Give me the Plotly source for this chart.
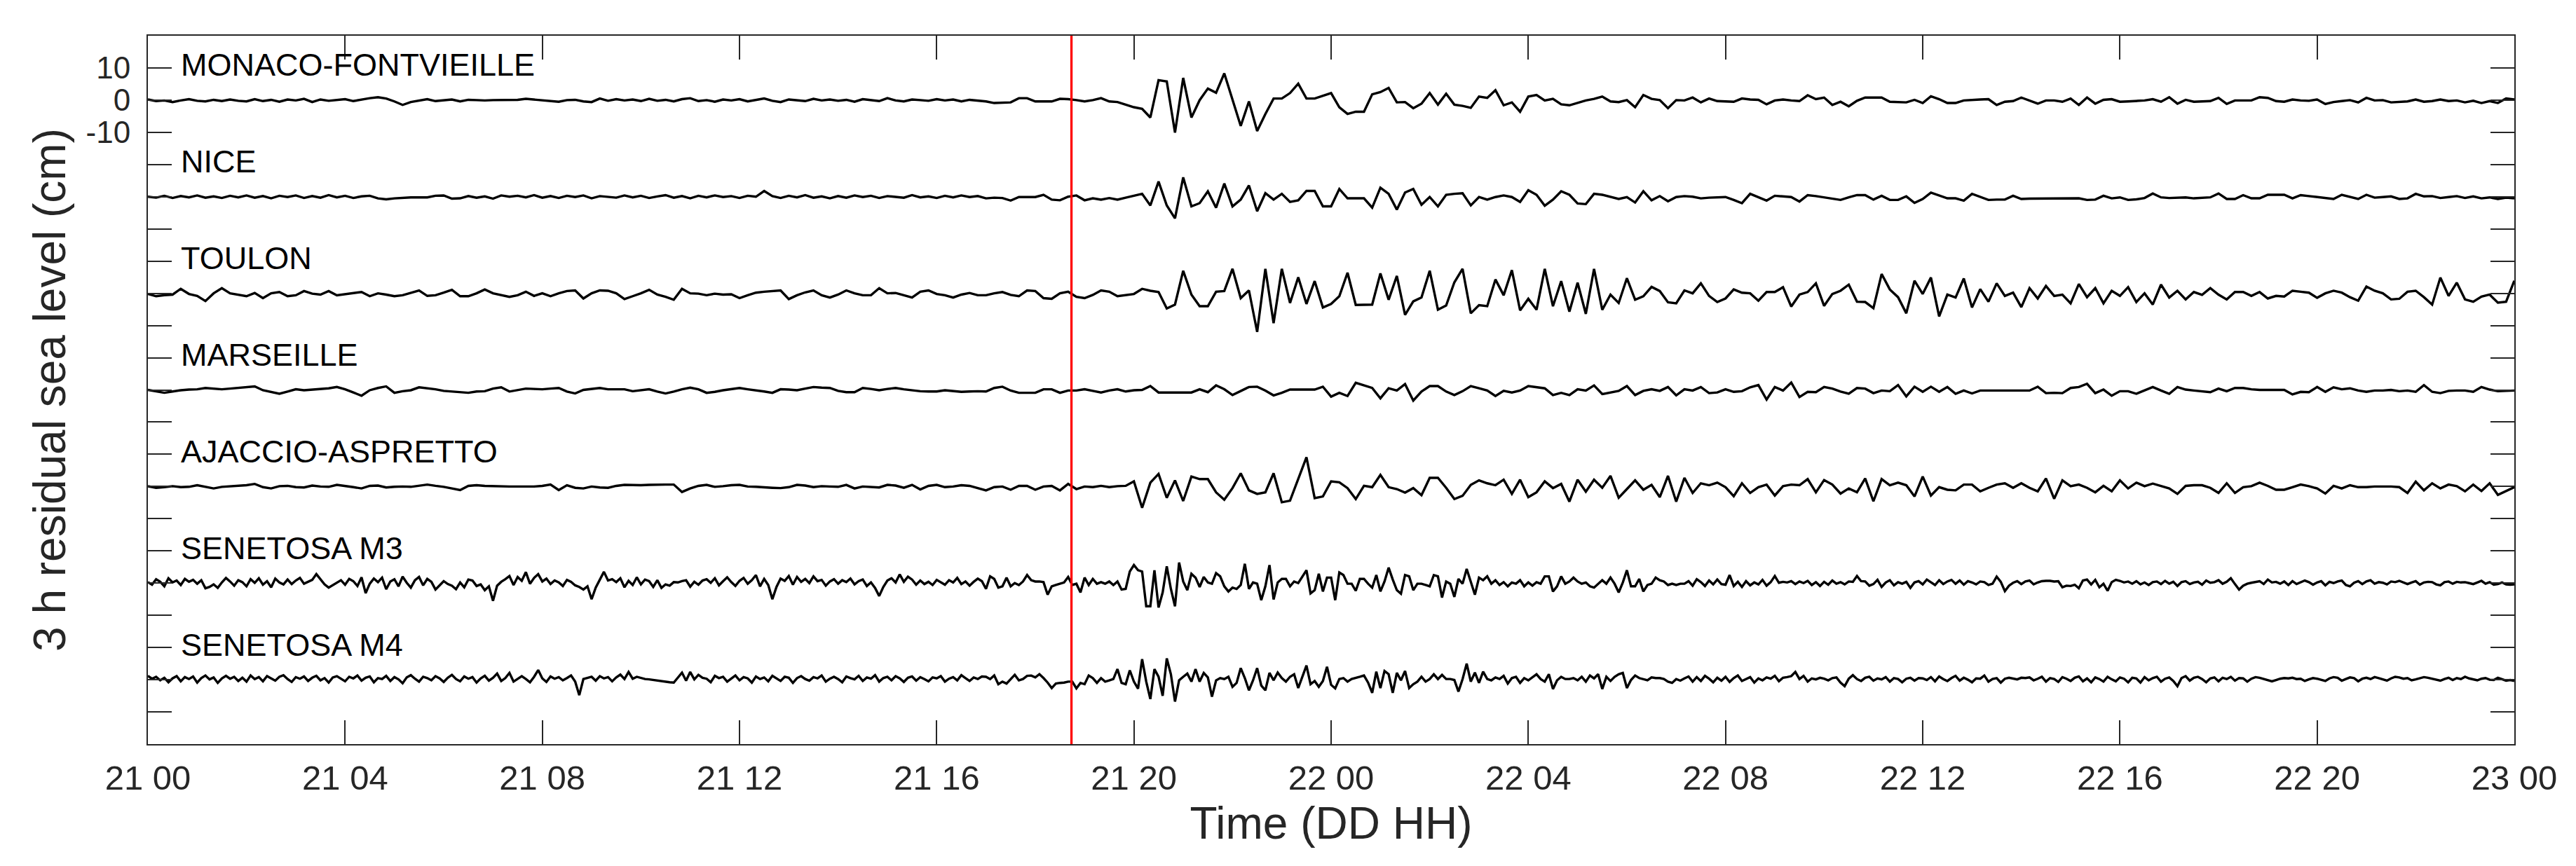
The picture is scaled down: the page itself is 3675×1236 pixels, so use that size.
import plotly.graph_objects as go

# ---------------- data ----------------
stations = ["MONACO-FONTVIEILLE", "NICE", "TOULON", "MARSEILLE",
            "AJACCIO-ASPRETTO", "SENETOSA M3", "SENETOSA M4"]
offsets_cm = [0, -30, -60, -90, -120, -150, -180]
step_minutes = [10, 10, 10, 10, 10, 5, 5]

tick_hours = [0, 4, 8, 12, 16, 20, 24, 28, 32, 36, 40, 44, 48]
tick_labels = ["21 00", "21 04", "21 08", "21 12", "21 16", "21 20", "22 00",
               "22 04", "22 08", "22 12", "22 16", "22 20", "23 00"]
ytick_values = list(range(-190, 20, 10))
ytick_shown = {10: "10", 0: "0", -10: "-10"}
event_hour = 18 + 44 / 60  # 21 May 2003, 18:44

monaco = [
    0.2, -0.3, -0.1, -0.6, -0.1, 0.3, -0.2, -0.4, 0.1, -0.3, 0.2, -0.2,
    -0.4, 0.3, -0.3, 0.1, -0.5, 0.2, -0.1, 0.4, -0.6, 0.2, -0.2, 0.0,
    0.3, -0.3, 0.2, 0.6, 0.9, 0.5, -0.4, -1.5, -0.6, -0.2, 0.3, -0.3,
    0.0, 0.2, -0.4, 0.1, 0.0, -0.1, 0.0, 0.0, 0.0, 0.1, 0.4, 0.2,
    0.0, -0.2, -0.5, 0.0, 0.1, -0.4, -0.6, 0.5, -0.2, 0.3, -0.1, 0.2,
    -0.3, 0.4, -0.2, 0.1, -0.4, 0.3, 0.6, -0.3, 0.0, -0.5, 0.2, -0.1,
    0.3, -0.4, 0.1, 0.5, -0.2, -0.6, 0.2, 0.0, -0.3, 0.4, -0.1, 0.2,
    -0.2, 0.1, -0.5, 0.3, 0.0, -0.3, 0.6, -0.1, -0.4, 0.2, 0.0, -0.2,
    0.3, -0.1, 0.2, -0.4, 0.1, -0.2, -0.4, -0.9, -0.8, -0.7, 0.6, 0.6,
    -0.4, -0.4, -0.4, 0.4, 0.3, 0.0, -0.4, 0.0, 0.6, -0.4, -0.6, -1.4,
    -2.2, -2.7, -5.4, 6.2, 5.8, -10.1, 6.9, -5.4, 0.0, 3.6, 2.3, 8.3,
    0.0, -8.0, -0.4, -9.6, -4.3, 0.5, 0.5, 2.2, 5.1, 0.5, 0.5, 1.4,
    2.2, -2.2, -4.3, -3.6, -3.6, 1.8, 2.5, 3.8, -0.7, -0.6, -2.5, -1.1,
    2.2, -1.4, 2.0, -1.4, -1.8, -2.4, 1.1, 0.7, 3.1, -1.6, -0.7, -3.6,
    1.1, 1.6, -0.1, 0.4, -1.3, -1.6, -0.9, -0.1, 0.4, 1.1, -0.4, -0.6,
    0.0, -2.2, 1.6, 0.4, 0.0, -2.5, 0.0, -0.1, 0.8, -0.7, 0.5, -0.3,
    -0.4, -0.5, 0.5, 0.2, 0.1, -1.3, -0.1, 0.2, -0.1, -0.3, 1.5, 0.3,
    0.8, -1.5, -0.5, -1.9, -0.2, 0.8, 0.8, 0.8, -0.5, -0.6, -0.7, 0.1,
    -0.9, 1.2, 0.3, -0.9, -0.9, -0.1, 0.1, 0.2, 0.3, -1.5, -0.5, -0.3,
    0.8, -0.1, -1.1, -0.1, -0.1, -0.5, 0.5, -1.5, 0.8, -1.1, 0.1, 0.3,
    -0.5, -0.4, -0.3, -0.1, 0.3, -0.5, 0.9, -1.1, 0.1, -0.5, -0.4, -0.3,
    0.7, -1.2, -0.1, -0.1, -0.1, 0.9, 0.7, -0.3, -0.5, 0.2, -0.1, -0.2,
    0.2, -1.2, -0.6, -0.3, 0.0, -0.7, 0.7, -0.1, 0.0, -0.7, -0.5, -0.4,
    0.2, -0.5, -0.3, 0.2, -0.3, -0.1, -0.7, -0.2, -0.9, -0.3, -0.9, 0.5,
    0.2,
]

nice = [
    0.0, -0.3, 0.3, -0.4, 0.2, -0.2, 0.4, -0.3, 0.1, -0.4, 0.3, -0.2,
    0.4, -0.3, 0.2, -0.5, 0.3, -0.1, 0.4, -0.4, 0.2, -0.3, 0.5, -0.2,
    0.3, -0.4, 0.1, 0.3, -0.5, -0.8, -0.5, -0.3, -0.2, -0.2, -0.2, 0.3,
    0.4, -0.6, -0.5, 0.2, -0.3, 0.1, -0.6, 0.4, 0.0, 0.3, -0.2, 0.5,
    -0.3, 0.2, -0.4, 0.3, -0.1, 0.4, -0.5, 0.2, 0.0, -0.3, 0.4, -0.2,
    0.3, -0.4, 0.1, 0.5, -0.3, 0.2, -0.5, 0.3, -0.2, 0.4, -0.1, 0.2,
    -0.4, 0.3, 0.0, 1.8, 0.2, -0.4, 0.3, -0.2, 0.5, -0.3, 0.1, -0.5,
    0.2, -0.3, 0.4, -0.1, 0.3, -0.4, 0.2, 0.0, -0.3, 0.5, -0.2, 0.1,
    -0.4, 0.3, -0.2, 0.4, -0.1, 0.2, -0.5, -0.3, -0.4, -1.2, -0.1, -0.1,
    -0.1, 0.6, -0.9, -1.1, 0.0, 0.4, -1.1, -0.5, -0.9, -0.4, -0.9, -0.3,
    0.3, 0.9, -2.7, 4.7, -2.7, -6.7, 6.0, -3.0, -2.0, 1.7, -3.4, 4.1,
    -3.0, -0.9, 3.5, -4.5, 1.1, -0.9, 0.9, -1.6, -1.1, 1.8, 1.8, -3.0,
    -3.0, 2.4, -0.5, -0.5, -0.5, -3.4, 2.8, 0.9, -4.0, 1.3, 2.4, -2.5,
    -0.1, -3.0, 0.6, 0.9, 1.1, -2.7, -0.1, -0.9, -0.1, 0.4, -0.1, -1.6,
    2.0, 0.6, -2.8, -0.9, 1.7, 0.6, -2.1, -2.3, 0.9, 0.6, -0.1, -0.7,
    -0.1, -1.8, 1.7, -1.1, 0.2, -1.4, -0.1, 0.2, 0.0, -0.5, -0.3, -0.2,
    -0.1, -1.0, -2.0, 0.9, -0.2, -1.2, 0.3, 0.1, -0.1, -1.5, 0.5, 0.2,
    -0.2, -0.6, -1.0, -0.2, 0.5, 0.5, -0.9, 0.3, -1.0, -1.0, 0.1, -1.9,
    -0.7, 1.3, 0.4, -0.5, -0.5, -1.2, 0.9, -0.1, -1.0, -0.9, -0.9, 0.3,
    -0.7, -0.6, -0.6, -0.6, -0.5, -0.5, -0.5, -0.5, -1.0, -0.9, 0.3, -0.5,
    -0.2, -1.0, -0.8, -0.4, 1.0, -0.2, -0.4, -0.3, -0.2, -0.5, -0.3, -0.2,
    1.0, -0.7, -0.7, 0.5, -0.5, -0.5, 0.6, 0.6, 0.6, -0.5, 0.5, 0.2,
    -0.1, -0.4, -0.7, 0.6, -0.1, -0.7, 0.6, -0.3, -0.1, 0.1, -0.7, -0.5,
    0.9, 0.1, 0.2, -0.4, -0.1, 0.2, -0.4, 0.1, -0.5, -0.2, -0.7, -0.3,
    -0.5,
]

toulon = [
    -0.2, -0.9, -0.6, -0.4, 1.4, -0.2, -0.8, -2.4, 0.0, 1.6, 0.0, -0.5,
    -0.9, 0.1, -1.5, 0.0, 0.4, -0.9, -0.6, 0.7, -0.1, -0.4, 0.7, -0.6,
    -0.3, 0.0, 0.4, -0.9, 0.0, -0.4, -0.9, -0.6, 0.2, 0.9, -0.8, -0.6,
    0.2, 1.1, -0.9, -0.9, 0.0, 1.2, 0.0, -0.5, -1.1, -0.6, 0.5, -0.8,
    0.0, -0.9, 0.0, 0.7, 0.9, -1.6, 0.0, 0.9, 0.8, 0.0, -1.8, -0.9,
    0.0, 1.1, -0.4, -1.1, -2.0, 1.4, 0.0, -0.1, -0.6, -0.1, -0.4, -0.3,
    -1.5, -0.6, 0.2, 0.5, 0.7, 0.9, -1.8, -0.6, 0.3, 0.9, -0.6, -1.3,
    -0.4, 0.9, 0.0, -0.6, -0.6, 1.6, 0.0, 0.1, -0.6, -1.3, 0.5, 0.9,
    -0.2, -0.6, -1.3, -0.4, 0.1, -0.6, -0.6, 0.0, 0.4, -0.5, -0.9, 0.9,
    0.7, -1.5, -1.7, 0.0, 0.5, -1.1, -1.5, -0.5, 0.9, 0.5, -0.9, -0.5,
    -0.2, 1.4, 0.8, 0.4, -4.7, -3.5, 7.0, -0.4, -4.0, -4.0, 0.5, 0.7,
    7.6, -1.5, 0.9, -12.0, 7.6, -9.3, 7.6, -3.0, 5.0, -3.3, 3.8, -4.4,
    -3.3, -0.9, 6.4, -3.6, -3.6, -3.5, 6.2, -2.0, 5.4, -6.7, -2.5, -1.3,
    7.0, -5.1, -3.8, 3.4, 7.6, -6.2, -3.7, -4.0, 4.3, -0.6, 7.2, -5.3,
    -1.7, -5.1, 7.6, -4.0, 3.8, -5.7, 3.3, -6.4, 7.6, -5.1, -0.4, -3.0,
    4.7, -2.0, -0.9, 2.0, 0.7, -2.8, -3.1, 0.9, 0.0, 3.1, -0.8, -2.7,
    -1.6, 1.2, 0.2, 0.0, -2.3, 0.4, 0.4, 1.9, -4.1, -0.4, 0.4, 3.1,
    -3.9, -0.2, 0.8, 2.7, -2.6, -2.7, -4.6, 6.0, 1.2, -1.2, -6.2, 3.9,
    -0.2, 4.9, -7.2, -0.4, -1.3, 4.6, -4.4, 1.3, -2.6, 3.1, -0.8, 0.2,
    -4.3, 1.6, -1.6, 2.3, -0.8, -0.4, -3.1, 2.9, -1.2, 1.6, -3.1, 0.8,
    -0.8, 1.9, -2.7, 0.0, -3.5, 2.7, -1.3, 0.8, -1.9, 0.4, -0.5, 1.6,
    -0.4, -1.9, 0.4, 0.4, -0.8, 0.4, -1.6, -0.8, -1.0, 0.8, 0.5, 0.2,
    -1.4, 0.0, 0.8, 0.2, -1.2, -2.3, 2.1, 0.8, 0.0, -1.9, -1.7, 0.5,
    0.8, -1.2, -3.5, 4.9, -0.8, 3.3, -1.9, -2.6, -1.0, -0.4, -2.9, -2.6,
    3.9,
]

marseille = [
    0.0, -0.5, -0.9, -0.5, -0.1, 0.1, 0.2, 0.6, 0.4, 0.2, 0.4, 0.6,
    0.8, 1.1, -0.1, -0.6, -1.2, -0.5, 0.2, -0.1, 0.1, 0.2, 0.5, 0.9,
    0.2, -0.8, -1.8, -0.1, 0.6, 1.1, -0.9, -0.4, -0.1, 0.8, 0.5, 0.2,
    -0.3, -0.5, -0.8, -0.9, -0.5, -0.4, 0.4, 0.8, -0.5, -0.1, 0.4, 0.3,
    0.2, 0.4, 0.6, -0.5, -1.1, 0.0, 0.3, 0.6, 0.2, 0.2, 0.2, -0.4,
    -0.1, 0.2, -0.5, -1.1, -0.5, 0.2, 0.7, 0.2, -0.9, -0.6, -0.1, 0.3,
    0.6, 0.2, -0.1, -0.5, -0.9, 0.2, 0.1, -0.1, 0.4, 0.9, 0.7, 0.6,
    -0.3, -0.7, -0.7, 0.6, 0.3, -0.1, 0.3, 0.6, 0.2, -0.1, -0.4, -0.5,
    -0.5, -0.1, -0.3, -0.6, -0.5, -0.4, -0.5, 0.6, 1.0, -0.2, -0.9, -0.9,
    -0.9, 0.2, 0.2, -0.9, -0.2, -0.2, 0.2, -0.3, -0.8, -0.2, 0.2, -0.5,
    -0.1, 0.0, 1.2, -0.8, -0.8, -0.8, -0.8, -0.8, 0.2, -0.7, 1.4, 0.2,
    -1.6, -0.3, 0.9, 1.0, -0.2, -1.7, -0.9, 0.1, 0.1, 0.1, 0.1, 1.0,
    -2.1, -0.9, -1.9, 2.2, 1.4, 0.6, -2.6, 0.5, -0.2, 1.8, -3.3, -0.5,
    1.2, 1.2, -0.5, -1.6, -0.4, 1.2, 0.5, -0.2, -1.9, -0.3, -0.8, -0.2,
    1.2, 0.8, 0.5, -1.6, -0.9, -1.6, 0.2, -0.2, 1.4, -1.3, -0.8, -0.3,
    1.2, -1.6, -0.3, 0.2, -0.3, 0.9, -1.7, 0.2, -0.2, 0.9, -1.0, -0.8,
    0.2, -0.6, -0.4, 0.8, 1.5, -3.0, 0.9, -0.2, 2.3, -2.2, -0.6, -0.7,
    0.9, 0.4, -0.5, -1.2, 0.6, 0.4, -1.0, -0.2, -0.4, 1.5, -2.0, 1.0,
    -0.6, 1.0, -0.6, 0.9, -1.2, -0.2, -1.1, -0.2, -0.2, -0.2, -0.2, -0.2,
    -0.2, -0.2, 1.0, -1.0, -0.9, -1.0, 0.6, 0.9, 1.9, -1.0, 0.1, -1.8,
    -0.4, -0.4, -1.2, -0.2, 0.9, -0.2, -1.2, 0.9, 0.1, -0.2, -0.4, -0.7,
    0.4, -0.4, 0.6, 0.6, 0.2, 0.0, 0.0, 0.0, 0.0, -1.4, -0.6, -0.7,
    0.9, -0.6, 0.8, 0.2, 0.5, -0.2, -0.6, -0.2, -0.2, 0.0, -0.4, -0.2,
    -0.6, 1.5, -0.6, -1.0, -0.3, -0.2, -0.2, -0.6, 0.9, 0.1, -0.4, -0.3,
    -0.2,
]

ajaccio = [
    0.1, -0.4, -0.2, 0.1, -0.2, -0.1, 0.4, -0.1, -0.6, -0.1, 0.1, 0.3,
    0.4, 0.8, -0.2, -0.6, 0.1, 0.2, -0.2, -0.3, 0.3, 0.0, -0.1, 0.5,
    0.2, -0.2, -0.6, 0.2, 0.3, -0.3, -0.1, 0.0, -0.1, 0.2, 0.6, 0.2,
    -0.1, -0.6, -1.1, 0.2, 0.4, 0.2, 0.1, 0.0, 0.0, 0.0, 0.0, 0.0,
    0.2, 0.6, -1.1, 0.4, -0.4, -0.6, 0.0, -0.3, -0.4, 0.2, 0.5, 0.4,
    0.4, 0.5, 0.6, 0.6, 0.6, -1.7, -0.6, 0.2, 0.5, -0.1, 0.1, 0.4,
    0.5, 0.0, -0.1, -0.3, -0.4, -0.5, -0.2, 0.5, 0.3, -0.2, 0.1, 0.0,
    -0.1, 0.5, -0.6, 0.0, -0.1, -0.3, 0.5, 0.3, -0.4, 0.5, -0.9, 0.2,
    0.5, -0.2, 0.0, 0.4, 0.2, -0.5, -1.2, -0.2, 0.0, -1.0, 0.2, 0.2,
    -1.0, 0.0, 0.2, -1.2, 0.8, -0.8, 0.0, -0.2, 0.2, -0.2, 0.1, 0.2,
    1.6, -6.6, 1.2, 3.9, -3.5, 1.9, -4.5, 3.1, 2.3, 2.3, -1.8, -4.1,
    -0.5, 4.1, -1.2, -2.3, -1.8, 4.1, -4.9, -4.4, 2.3, 9.1, -3.6, -3.1,
    1.6, 1.3, -0.5, -3.9, 0.2, -0.2, 3.6, -0.2, -0.8, -1.9, -0.5, -2.7,
    2.7, 2.7, -0.4, -3.9, -2.9, 0.5, 1.9, 1.0, 0.4, 2.1, -2.3, 2.1,
    -3.3, -1.8, 1.6, -0.5, 0.8, -4.7, 2.1, -1.6, 2.1, -0.4, 3.3, -3.5,
    -0.8, 1.9, -1.0, 0.5, -3.3, 3.3, -4.7, 2.7, -2.0, 1.0, 0.4, 1.2,
    -0.2, -3.0, 1.0, -2.0, -0.2, 0.6, -2.8, 0.1, 0.6, 0.4, 2.3, -1.8,
    2.0, 0.6, -2.2, -0.6, -1.8, 2.5, -4.6, 2.3, 0.4, 1.2, 0.4, -3.1,
    3.1, -2.8, -0.2, -1.0, -1.2, 0.6, 0.6, -1.5, -0.4, 0.6, 1.0, -0.4,
    1.0, -0.4, -1.5, 2.5, -3.8, 1.9, 0.1, 0.6, -0.4, -1.8, 0.2, -1.5,
    1.9, -0.6, 1.2, 0.1, 0.9, 0.2, -0.6, -2.3, 0.2, 0.4, 0.4, -0.4,
    -2.0, 1.0, -2.0, -0.2, 0.1, 1.2, 0.2, -1.0, -1.0, -0.2, 0.6, 0.1,
    -0.6, -2.2, 0.2, -0.6, 0.4, -0.2, -0.2, 0.0, 0.0, 0.0, -0.2, -2.0,
    1.5, -1.2, 1.0, -0.6, 0.6, 0.1, -1.5, 0.6, -1.4, 1.0, -2.6, -1.4,
    -0.2,
]

senetosa_m3 = [
    0.3, -0.5, 1.2, 0.4, -1.0, 1.5, 0.2, 0.8, -0.6, 1.3, 0.4, 1.0, -0.2, 0.9, -1.6, -1.2, -0.4, -1.5, 0.2, 1.6, 0.5, -0.8, 0.9, 0.3,
    -1.0, 1.2, 0.1, 1.5, -0.5, 0.6, -1.3, 1.4, 0.2, -0.4, 1.1, -0.3, 0.8, 1.6, -0.2, 0.5, 1.0, 2.8, 1.2, -0.4, -1.4, -0.6, 0.3, 0.9,
    -0.5, 1.3, 0.6, -0.9, 1.8, -3.1, -0.2, 1.4, 0.3, 1.7, -1.9, 0.5, 1.2, -1.0, 2.0, 0.1, -1.4, 0.9, 1.9, -0.7, 1.3, 0.4, -2.0, -0.6,
    0.6, -0.3, -0.8, -1.9, 0.2, -1.3, 1.1, 0.8, -0.9, -0.4, -2.2, -1.0, -5.5, -0.8, 0.4, 1.2, 2.2, -0.6, 1.9, 0.7, 3.4, -0.2, 1.6, 2.8,
    0.5, 1.4, -0.3, 0.8, 0.2, -0.9, 1.0, 0.4, -0.7, -1.2, -2.0, -1.0, -5.0, -1.4, 0.9, 3.5, 0.8, 1.2, 0.3, 1.5, -1.3, 0.7, -0.6, 1.8,
    -0.4, 1.1, 0.6, -1.2, 0.9, -1.5, -0.4, -0.8, 0.3, 0.2, 0.6, 0.9, -1.1, 0.4, -0.5, 0.8, 1.2, 0.1, 1.5, -0.7, 0.6, 1.8, 0.3, -0.9,
    0.7, 1.6, -0.2, 0.9, 2.5, -1.0, 1.3, -0.6, -5.0, -1.2, 1.4, 0.7, 2.2, -0.5, 1.9, 0.4, 1.3, 0.0, 2.1, 0.6, 1.0, -0.8, 0.5, 1.2,
    -0.2, 0.9, 0.3, 1.4, -0.4, 0.6, 1.1, -0.9, 0.2, -1.5, -4.0, -1.2, 0.8, 1.5, 0.2, 2.7, 0.4, 2.0, 1.1, -0.5, 0.8, -0.3, 0.4, -0.6,
    1.0, 0.3, -0.5, 0.9, 0.2, 1.6, -0.3, 0.5, -0.8, 0.4, 1.4, 0.6, -1.8, 2.1, 1.3, -1.4, -1.0, 1.7, -1.0, 0.0, -0.6, 0.5, 2.5, 0.9,
    0.5, 0.5, 0.3, -3.6, -1.0, -0.6, -0.2, 0.2, 1.9, -0.6, -0.2, -2.9, 1.7, -0.6, 1.3, -0.2, 0.3, -0.2, 0.5, -0.6, 0.5, -2.0, -1.8, 3.6,
    5.6, 4.0, 3.6, -7.2, -7.2, 4.0, -7.6, -2.9, 5.2, -1.8, -7.2, 6.4, 0.5, -2.2, 2.9, 1.7, -1.2, 1.9, 0.2, -0.2, 3.1, 2.1, -1.0, -2.6,
    -1.4, -1.8, -0.6, 6.0, -1.8, 0.2, -0.2, -5.3, -1.0, 5.6, -5.1, 0.2, 1.3, 1.3, -1.0, 0.5, 0.0, 2.0, 4.0, -3.2, -2.2, 2.9, -2.6, 1.7,
    1.7, -5.3, 3.3, 2.5, -0.2, -0.2, -2.4, 1.3, 1.3, -0.2, -1.4, 2.5, -2.6, 0.5, 4.8, 1.1, -2.2, -3.3, 2.5, 2.1, -2.2, -0.2, -0.2, -0.6,
    -1.0, 2.5, 2.1, -4.5, 0.5, -0.2, -4.3, 1.3, -0.2, 4.4, 0.2, -3.6, 1.7, 0.9, 2.1, -0.2, 0.9, -0.6, 0.3, -1.0, 0.2, -0.2, 0.9, -1.0,
    0.2, -0.8, 0.3, -0.2, 2.1, 2.1, -2.6, -1.0, 2.1, -0.2, 0.5, 1.7, 0.5, -0.2, 0.2, -1.0, -1.4, -0.2, 0.9, -0.2, 1.7, -0.2, -2.9, 0.2,
    4.0, -1.0, -1.0, 1.3, -2.6, -0.6, -0.2, 1.7, 0.9, 0.5, -0.6, -0.2, -0.6, -0.2, -0.2, 0.6, -0.8, 1.2, 0.3, -0.9, 0.8, -0.4, 1.1, -0.3,
    -0.5, 2.5, -0.9, 0.4, -1.2, 0.6, -0.7, 0.2, -0.4, 1.0, -0.8, 0.3, 2.2, 0.1, 0.4, 0.2, 0.6, -0.3, 0.5, 0.0, 0.7, -0.6, 0.3, -0.9,
    0.4, -0.5, 0.8, -0.2, 0.3, -0.4, 0.5, 0.4, 2.2, 0.6, 0.5, -0.8, -0.3, 1.0, -1.2, 0.2, 0.9, -0.7, 0.3, -0.2, 0.4, -1.5, 0.2, 0.6,
    -0.4, 1.1, 0.2, -0.6, 0.9, -0.3, 0.5, 1.0, -0.2, 0.8, -0.5, 0.6, 0.2, -0.4, 0.5, 0.3, -0.6, -0.2, 2.0, 0.4, -2.5, -0.8, 0.1, 0.6,
    -0.3, 0.5, 0.8, -0.4, 0.2, 0.6, 0.7, 0.7, 0.5, 0.6, -1.3, -0.8, -0.9, -0.5, -1.6, 0.8, 1.1, -0.4, 1.0, -1.3, -0.2, -2.4, 0.3, 1.0,
    0.7, 0.2, 0.5, -0.2, 0.6, -0.4, 0.2, -0.6, 0.3, 0.5, -0.3, 0.7, -0.2, 0.4, -0.9, 0.3, 0.6, -0.3, 0.2, 0.4, -0.5, 0.8, 0.1, 0.3,
    0.9, -0.2, 0.4, 1.5, -0.3, -2.0, -0.8, -0.2, 0.1, 0.4, 0.6, -0.3, 1.1, 0.2, 0.4, -0.2, 0.5, -0.6, 0.6, -0.3, 0.2, 0.8, 0.3, -0.5,
    0.2, 0.6, -0.7, 0.4, 0.0, 0.5, 0.8, -0.6, -1.0, 0.1, 0.6, -0.3, 0.5, 0.9, -0.2, 0.3, 0.1, -0.4, 0.5, 0.3, 0.7, 0.2, -0.3, 0.2,
    0.6, -0.5, 0.2, 0.4, 0.3, -0.4, -0.7, 0.3, 0.5, -0.2, 0.4, 0.2, 0.3, 0.0, -0.3, 0.2, 0.7, -0.2, 0.3, -0.5, -0.3, 0.2, -0.4, -0.5,
    -0.4,
]

senetosa_m4 = [
    1.2, 0.3, 0.9, -0.2, 0.6, -0.8, 0.4, 1.1, -0.5, 0.8, 0.2, 1.0, -0.9, 0.5, 1.3, 0.1, 0.7, -1.0, 0.4, 1.2, 0.3, 0.9, -0.4, 0.6,
    -0.6, 1.3, 0.2, 0.8, -0.5, 1.1, 0.4, -0.3, 0.9, 1.4, 0.2, -0.7, 0.8, 0.3, 1.0, -0.4, 0.6, 1.2, -0.2, 0.5, -0.9, 0.7, 1.1, 0.2,
    -0.5, 0.9, 0.4, 1.3, -0.3, 0.6, 1.0, -0.8, 0.5, 0.2, 1.2, -0.4, 0.8, 0.1, -1.1, 0.7, 1.4, 0.3, -0.6, 0.9, 0.5, -0.2, 1.1, 0.4,
    -0.7, 0.6, 1.5, 0.2, -0.5, 1.0, 0.3, 0.8, -0.9, 0.4, 1.2, -0.3, 0.6, 1.9, -0.4, 0.5, 2.1, -0.6, 0.3, 1.1, 0.2, -0.8, 0.9, 3.0,
    0.4, -0.7, 1.0, 0.3, 0.8, -0.2, 0.5, 1.3, -0.6, -4.8, 0.2, 0.6, 0.9, -0.3, 1.1, 0.4, 0.8, -0.5, 0.7, 1.6, 0.2, 2.4, 0.3, 0.9,
    0.5, 0.2, 0.1, -0.1, -0.3, -0.4, -0.6, -0.8, -0.9, 0.6, 2.2, -0.3, 2.4, 0.1, 1.5, 0.6, 0.3, -0.8, 1.2, 0.5, 0.9, -0.6, 0.4, 1.3,
    -0.2, 0.8, 0.4, -0.9, 1.0, 0.2, 0.7, -0.5, 1.2, 0.3, -0.4, 0.9, 0.6, -1.0, 0.5, 1.1, 0.2, -0.3, 0.8, 0.4, 1.3, -0.6, 0.3, 0.9,
    0.2, -0.8, 1.0, 0.5, 0.1, 1.2, -0.4, 0.7, 0.3, 1.4, -0.6, 0.5, 0.9, -0.2, 1.1, 0.4, -0.7, 0.6, 1.0, -0.3, 0.8, 0.2, -0.5, 0.7,
    0.4, 1.1, -0.6, 0.3, 0.8, -0.2, 1.4, 0.5, -0.4, 0.7, 0.2, 1.0, 0.9, 0.2, 1.3, -1.4, -0.6, -1.2, 0.2, 1.5, -0.2, 0.2, 1.2, 1.3,
    0.7, 1.7, 0.5, -0.9, -2.6, -1.2, -1.0, -0.9, -0.6, -0.6, -2.7, -1.0, -1.4, 1.3, 0.5, -1.0, 0.5, -0.6, -0.2, 0.2, 3.3, -1.0, -1.4, 2.9,
    -0.6, -2.8, 6.4, -0.6, -6.0, 3.3, 0.9, -5.0, 6.6, 1.7, -6.8, -0.2, 0.9, 1.9, -0.6, 3.3, -0.6, 2.1, 0.7, -5.3, -0.2, 0.5, 0.2, 0.9,
    -2.2, -1.0, 3.6, 0.5, -3.3, -0.2, 3.6, -1.8, -3.3, 2.1, -0.2, 2.2, 0.5, -0.6, 0.9, 1.7, -2.6, 0.9, 4.4, -1.4, -0.4, -2.2, -0.4, 4.0,
    -1.6, -2.7, 0.2, 0.5, -0.6, 0.2, 0.5, 0.9, 1.3, -0.9, -4.1, 2.5, -2.6, 2.7, 1.7, -4.1, 2.1, -0.2, 2.7, -2.6, -1.4, -0.6, 0.9, -0.6,
    0.2, 1.7, 0.2, 1.5, 0.2, 0.2, -0.1, -3.7, 0.2, 5.0, -0.6, 2.2, -1.0, 2.5, 0.2, -0.2, 0.7, 0.2, 1.2, -1.2, 0.5, 0.9, -1.0, 0.5,
    -0.2, 0.7, 1.7, 0.2, -0.6, 1.7, -2.9, -0.2, 0.9, 0.2, 0.2, 0.5, -0.2, 0.9, -0.6, 1.3, 0.4, 1.7, -2.9, 0.9, -0.4, 0.9, 1.7, 2.1,
    -2.6, -0.1, 1.3, 0.5, 0.2, -0.2, 0.7, 0.5, 0.5, 0.2, -0.6, -1.0, 0.2, -0.3, 0.4, 1.0, -0.6, 0.8, -0.4, 1.2, 0.3, -0.8, 0.6, -0.3,
    0.9, -0.7, 0.5, 1.3, -0.4, 0.2, 0.8, -0.9, 0.4, -0.2, 0.7, 0.3, 1.2, -0.5, 0.6, 0.8, 1.1, 2.4, 0.2, 1.2, -0.6, 0.4, 0.1, 0.6,
    0.3, -0.2, 0.5, 0.7, -0.9, -2.0, 0.3, 1.4, 0.2, -0.4, 0.6, 0.9, -0.3, 0.4, 0.1, 0.8, -0.6, 0.5, 0.2, -0.8, 0.3, 0.6, -0.3, 0.5,
    0.4, -0.1, 0.8, -0.5, 1.0, 0.2, -0.4, 0.5, 1.2, -0.3, 0.6, 0.0, -0.8, 0.4, 0.3, 1.3, -0.6, 0.2, 0.5, -0.9, 0.3, 0.6, 0.4, 0.1,
    0.6, 0.5, 0.7, -0.2, 0.3, 0.9, -0.6, 0.5, 0.2, -0.7, 0.8, 0.3, -0.4, 0.6, 1.0, -0.5, 0.4, -0.8, 0.7, 0.2, -0.6, 0.9, 0.1, -0.5,
    0.7, 0.3, -0.8, 0.6, 0.4, -0.9, 0.8, -0.2, 0.5, 0.9, -0.6, 0.3, 0.7, -0.4, -2.0, 0.5, 1.1, -0.3, 0.6, 0.9, 0.2, -0.8, 0.4, 0.7,
    -0.5, 0.6, 0.2, 0.9, -0.3, 0.5, 0.4, -0.6, 0.3, 0.8, 0.6, 0.2, -0.2, -0.5, -0.1, 0.3, 0.5, 0.4, 0.6, 0.2, 0.3, -0.4, 0.1, 0.5,
    0.3, 0.0, -0.4, 0.4, 0.8, 0.6, -0.3, 0.2, 0.7, 0.5, -0.5, 0.3, 0.6, 0.2, 0.8, 0.5, 0.1, -0.3, 0.4, 0.9, 0.7, 0.3, 0.5, -0.2,
    0.1, 0.4, 0.8, 0.6, 0.3, 0.0, -0.3, 0.2, 0.6, -0.1, 0.5, 0.2, 0.9, 0.4, 0.1, -0.2, 0.3, 0.5, 0.0, -0.1, 0.6, 0.2, -0.3, -0.1,
    -0.4,
]

series = [monaco, nice, toulon, marseille, ajaccio, senetosa_m3, senetosa_m4]

# ---------------- figure ----------------
FONT = "Liberation Sans, Arial, Helvetica, sans-serif"
AXC = "#262626"

fig = go.Figure()
for name, vals, off, step in zip(stations, series, offsets_cm, step_minutes):
    expected = 48 * 60 // step + 1
    assert len(vals) == expected, (name, len(vals), expected)
    t = [i * step / 60 for i in range(len(vals))]
    fig.add_trace(go.Scatter(
        x=t, y=[v + off for v in vals], mode="lines", name=name,
        line=dict(color="black", width=3.4), showlegend=False, hoverinfo="skip"))

for name, off in zip(stations, offsets_cm):
    fig.add_annotation(x=0.64, y=off + 10, xref="x", yref="y", text=name,
                       showarrow=False, xanchor="left", yanchor="middle", yshift=4,
                       font=dict(family=FONT, size=45, color="black"))

fig.add_shape(type="line", x0=event_hour, x1=event_hour, y0=0, y1=1,
              xref="x", yref="paper", line=dict(color="#ff0000", width=3.3))

fig.update_layout(
    width=3675, height=1236,
    margin=dict(l=203, r=96, t=43, b=182),
    paper_bgcolor="white", plot_bgcolor="white",
    showlegend=False,
    xaxis=dict(
        range=[0, 48], tickmode="array", tickvals=tick_hours, ticktext=tick_labels,
        ticks="inside", ticklen=34, tickwidth=2, tickcolor=AXC,
        showline=True, linecolor=AXC, linewidth=2, mirror="ticks",
        showgrid=False, zeroline=False, automargin=False,
        tickfont=dict(family=FONT, size=49, color=AXC), ticklabelstandoff=4,
        title=dict(text="Time (DD HH)", font=dict(family=FONT, size=64, color=AXC),
                   standoff=16),
    ),
    yaxis=dict(
        range=[-200, 20], tickmode="array", tickvals=ytick_values,
        ticktext=[ytick_shown.get(v, "") for v in ytick_values],
        ticks="inside", ticklen=34, tickwidth=2, tickcolor=AXC,
        showline=True, linecolor=AXC, linewidth=2, mirror="ticks",
        showgrid=False, zeroline=False, automargin=False,
        tickfont=dict(family=FONT, size=44, color=AXC), ticklabelstandoff=14,
        title=dict(text="3 h residual sea level (cm)",
                   font=dict(family=FONT, size=64, color=AXC), standoff=8),
    ),
)

fig.write_html("out.html")
